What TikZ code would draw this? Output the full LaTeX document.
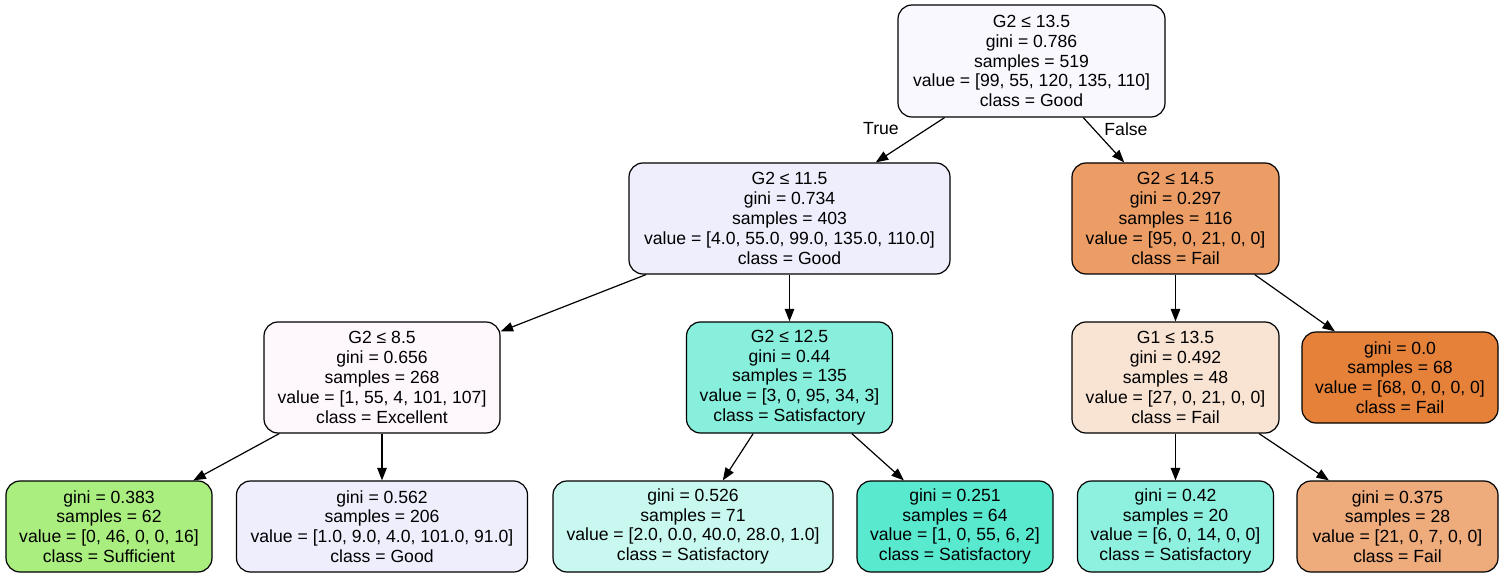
\documentclass[tikz,border=0pt]{standalone}
\usepackage{fontspec}
\setmainfont{Liberation Sans}
\usetikzlibrary{arrows.meta}
\definecolor{croot}{HTML}{F8F8FE}
\definecolor{cna}{HTML}{EEEEFD}
\definecolor{cnb}{HTML}{EB9D65}
\definecolor{cnc}{HTML}{FEF8FD}
\definecolor{cnd}{HTML}{87EFDC}
\definecolor{cne}{HTML}{F9E3D3}
\definecolor{cnf}{HTML}{E58139}
\definecolor{cla}{HTML}{A9EE7E}
\definecolor{clb}{HTML}{EEEEFD}
\definecolor{clc}{HTML}{C8F8EF}
\definecolor{cld}{HTML}{58E9CE}
\definecolor{cle}{HTML}{8EF0DE}
\definecolor{clf}{HTML}{EEAB7B}
\begin{document}
\begin{tikzpicture}[x=1pt,y=-1pt,
  tn/.style={draw=black, line width=1.2pt, rounded corners=14pt, align=center, inner sep=0pt, font=\fontsize{17.6}{19.8}\selectfont},
  lbl/.style={inner sep=0pt, font=\fontsize{17.6}{19.8}\selectfont},
  edge/.style={-{Triangle[length=12.5pt,width=9.5pt]}, line width=1.2pt}]
\useasboundingbox[fill=white] (0,0) rectangle (1504,577);
\node[tn, fill=croot, minimum width=267pt, minimum height=112pt] (root) at (1031.5,61) {G2 ≤ 13.5\\gini = 0.786\\samples = 519\\value = [99, 55, 120, 135, 110]\\class = Good};
\node[tn, fill=cna, minimum width=321pt, minimum height=111pt] (n1) at (789.5,218.5) {G2 ≤ 11.5\\gini = 0.734\\samples = 403\\value = [4.0, 55.0, 99.0, 135.0, 110.0]\\class = Good};
\node[tn, fill=cnb, minimum width=207pt, minimum height=111pt] (n2) at (1175.5,218.5) {G2 ≤ 14.5\\gini = 0.297\\samples = 116\\value = [95, 0, 21, 0, 0]\\class = Fail};
\node[tn, fill=cnc, minimum width=236pt, minimum height=111pt] (n3) at (382,377.5) {G2 ≤ 8.5\\gini = 0.656\\samples = 268\\value = [1, 55, 4, 101, 107]\\class = Excellent};
\node[tn, fill=cnd, minimum width=206pt, minimum height=111pt] (n4) at (789.5,377.5) {G2 ≤ 12.5\\gini = 0.44\\samples = 135\\value = [3, 0, 95, 34, 3]\\class = Satisfactory};
\node[tn, fill=cne, minimum width=207pt, minimum height=111pt] (n5) at (1175.5,377.5) {G1 ≤ 13.5\\gini = 0.492\\samples = 48\\value = [27, 0, 21, 0, 0]\\class = Fail};
\node[tn, fill=cnf, minimum width=196pt, minimum height=91pt] (n6) at (1400,377.5) {gini = 0.0\\samples = 68\\value = [68, 0, 0, 0, 0]\\class = Fail};
\node[tn, fill=cla, minimum width=206pt, minimum height=91pt] (l1) at (109,526.5) {gini = 0.383\\samples = 62\\value = [0, 46, 0, 0, 16]\\class = Sufficient};
\node[tn, fill=clb, minimum width=291pt, minimum height=91pt] (l2) at (382,526.5) {gini = 0.562\\samples = 206\\value = [1.0, 9.0, 4.0, 101.0, 91.0]\\class = Good};
\node[tn, fill=clc, minimum width=280pt, minimum height=91pt] (l3) at (693,526.5) {gini = 0.526\\samples = 71\\value = [2.0, 0.0, 40.0, 28.0, 1.0]\\class = Satisfactory};
\node[tn, fill=cld, minimum width=196pt, minimum height=91pt] (l4) at (955,526.5) {gini = 0.251\\samples = 64\\value = [1, 0, 55, 6, 2]\\class = Satisfactory};
\node[tn, fill=cle, minimum width=196pt, minimum height=91pt] (l5) at (1175.5,526.5) {gini = 0.42\\samples = 20\\value = [6, 0, 14, 0, 0]\\class = Satisfactory};
\node[tn, fill=clf, minimum width=201pt, minimum height=91pt] (l6) at (1397.5,526.5) {gini = 0.375\\samples = 28\\value = [21, 0, 7, 0, 0]\\class = Fail};
\draw[edge] (root) -- (n1);
\draw[edge] (root) -- (n2);
\draw[edge] (n1) -- (n3);
\draw[edge] (n1) -- (n4);
\draw[edge] (n2) -- (n5);
\draw[edge] (n2) -- (n6);
\draw[edge] (n3) -- (l1);
\draw[edge] (n3) -- (l2);
\draw[edge] (n4) -- (l3);
\draw[edge] (n4) -- (l4);
\draw[edge] (n5) -- (l5);
\draw[edge] (n5) -- (l6);
\node[lbl] (ltrue) at (881,129) {True};
\node[lbl] (lfalse) at (1126,129) {False};
\end{tikzpicture}
\end{document}
